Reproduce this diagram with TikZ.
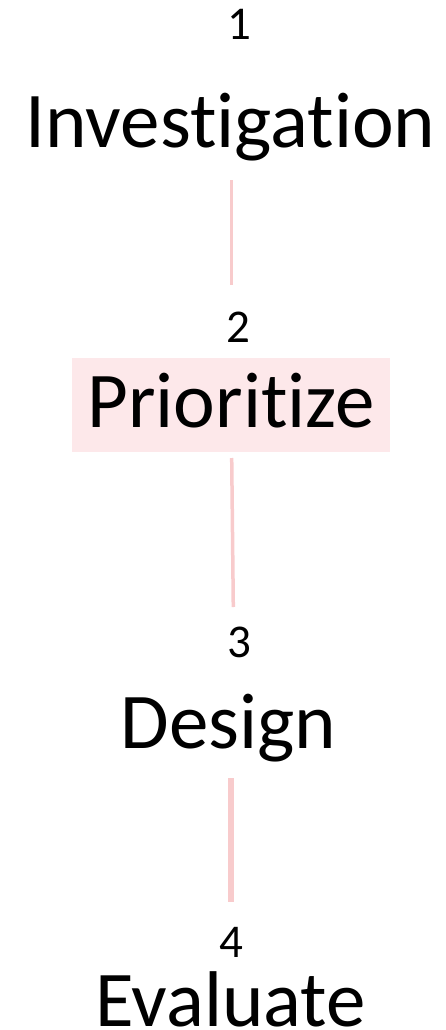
\documentclass[tikz,border=0pt]{standalone}
\usepackage{fontspec}
\setmainfont{Carlito}[Ligatures={NoCommon,NoRare,NoContextual}]
\definecolor{linkpink}{HTML}{F8CBCC}
\definecolor{boxpink}{HTML}{FDE8EA}
\begin{document}
\begin{tikzpicture}[x=1pt,y=-1pt,
  num/.style={anchor=base,inner sep=0pt,font=\fontsize{47}{49}\selectfont},
  lab/.style={anchor=base,inner sep=0pt,font=\fontsize{79}{81}\selectfont},
  link/.style={draw=linkpink,line width=3pt}]
\useasboundingbox (0,0) rectangle (446,1030);
\fill[boxpink] (72,358) rectangle (390,452);
\node[num] (n1) at (239,40) {1};
\node[lab] (l1) at (230.5,147) {Investigation};
\node[num] (n2) at (238,342) {2};
\node[lab] (l2) at (231,427) {Prioritize};
\node[num] (n3) at (239,657) {3};
\node[lab] (l3) at (228.5,748) {Design};
\node[num] (n4) at (231.5,957) {4};
\node[lab] (l4) at (230.5,1026) {Evaluate};
\coordinate (a1) at (231,180); \coordinate (b1) at (231,285);
\coordinate (a2) at (231.7,458); \coordinate (b2) at (233.3,607);
\coordinate (a3) at (231,778); \coordinate (b3) at (231,902);
\draw[link] (a1) -- (b1);
\draw[link,line width=3.5pt] (a2) -- (b2);
\draw[link,line width=6pt] (a3) -- (b3);
\end{tikzpicture}
\end{document}
